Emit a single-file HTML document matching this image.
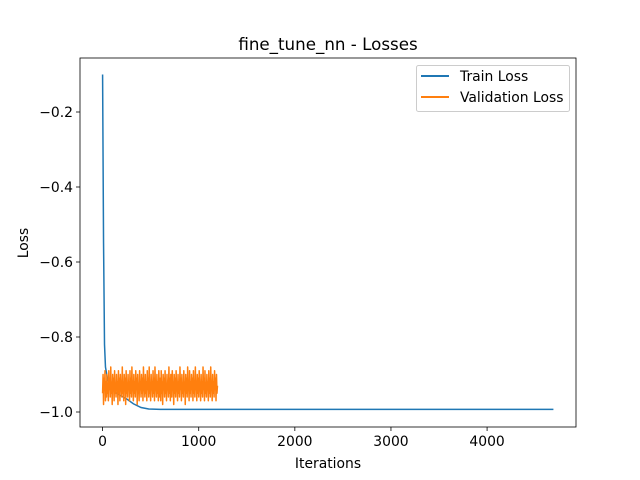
<!DOCTYPE html>
<html><head><meta charset="utf-8"><style>
body{margin:0;background:#fff;}
svg{display:block;font-family:"DejaVu Sans","Liberation Sans",sans-serif;}
</style></head><body>
<svg id="chart" width="640" height="480" viewBox="0 0 640 480">
<rect width="640" height="480" fill="#fff"/>
<text x="328" y="50" font-size="16.7" text-anchor="middle">fine_tune_nn - Losses</text>
<g id="plot"></g>
<text x="328" y="468" font-size="13.9" text-anchor="middle">Iterations</text>
<text x="28" y="243" font-size="13.9" text-anchor="middle" transform="rotate(-90 28 243)">Loss</text>
<g>
<rect x="416.5" y="65.5" width="153" height="46" rx="2" fill="#fff" fill-opacity="0.8" stroke="#ccc"/>
<line x1="421" y1="76" x2="449" y2="76" stroke="#1f77b4" stroke-width="2"/>
<text x="460" y="81" font-size="13.9">Train Loss</text>
<line x1="421" y1="97" x2="449" y2="97" stroke="#ff7f0e" stroke-width="2"/>
<text x="460" y="102" font-size="13.9">Validation Loss</text>
</g>
</svg>
<script>
const xTicks=[0,1000,2000,3000,4000];
const yTicks=[-1.0,-0.8,-0.6,-0.4,-0.2];
const yTickLabels=["\u22121.0","\u22120.8","\u22120.6","\u22120.4","\u22120.2"];
const trainX=[0,10,20,30,50,80,120,180,250,320,400,480,600,1000,2000,3000,4000,4690];
const trainY=[-0.10,-0.55,-0.82,-0.88,-0.91,-0.93,-0.945,-0.955,-0.965,-0.978,-0.988,-0.992,-0.993,-0.993,-0.993,-0.993,-0.993,-0.993];
const valY=[-0.95,-0.90,-0.98,-0.91,-0.94,-0.89,-0.97,-0.92,-0.96,-0.90,-0.95,-0.93,-0.97,-0.89,-0.94,-0.91,-0.96,-0.88,-0.95,-0.92,
-0.98,-0.90,-0.94,-0.91,-0.97,-0.89,-0.95,-0.93,-0.96,-0.90,-0.94,-0.92,-0.98,-0.89,-0.95,-0.91,-0.97,-0.90,-0.94,-0.93,
-0.96,-0.88,-0.95,-0.92,-0.97,-0.90,-0.94,-0.91,-0.98,-0.89,-0.95,-0.93,-0.96,-0.90,-0.94,-0.92,-0.97,-0.89,-0.95,-0.91,
-0.96,-0.88,-0.94,-0.93,-0.97,-0.90,-0.95,-0.92,-0.96,-0.89,-0.94,-0.91,-0.98,-0.90,-0.95,-0.93,-0.97,-0.89,-0.94,-0.92,
-0.96,-0.90,-0.95,-0.91,-0.97,-0.88,-0.94,-0.93,-0.96,-0.90,-0.95,-0.92,-0.97,-0.89,-0.94,-0.91,-0.96,-0.88,-0.95,-0.93,
-0.97,-0.90,-0.94,-0.92,-0.96,-0.89,-0.95,-0.91,-0.97,-0.88,-0.94,-0.93,-0.96,-0.90,-0.95,-0.92,-0.97,-0.89,-0.93,-0.96,
-0.91,-0.97,-0.89,-0.95,-0.92,-0.98,-0.90,-0.94,-0.91,-0.96,-0.89,-0.95,-0.93,-0.97,-0.90,-0.94,-0.92,-0.96,-0.88,-0.95,
-0.91,-0.97,-0.90,-0.93,-0.96,-0.89,-0.94,-0.92,-0.98,-0.90,-0.95,-0.91,-0.96,-0.89,-0.94,-0.93,-0.97,-0.90,-0.95,-0.92,
-0.96,-0.88,-0.94,-0.91,-0.97,-0.90,-0.95,-0.93,-0.96,-0.89,-0.94,-0.92,-0.98,-0.90,-0.95,-0.91,-0.96,-0.88,-0.94,-0.93,
-0.97,-0.89,-0.95,-0.92,-0.96,-0.90,-0.94,-0.91,-0.97,-0.89,-0.95,-0.93,-0.96,-0.88,-0.94,-0.92,-0.97,-0.90,-0.95,-0.91,
-0.96,-0.89,-0.94,-0.93,-0.97,-0.90,-0.95,-0.92,-0.96,-0.88,-0.94,-0.91,-0.97,-0.89,-0.95,-0.93,-0.96,-0.90,-0.94,-0.92,
-0.97,-0.89,-0.95,-0.91,-0.96,-0.88,-0.94,-0.93,-0.97,-0.90,-0.95,-0.92,-0.96,-0.89,-0.94,-0.91,-0.97,-0.90,-0.95,-0.93];
const valStep=5;
const L=80,R=576,T=58,B=427;
const X0=-235,X1=4925,Y0=-1.04,Y1=-0.056;
const sx=v=>L+(v-X0)/(X1-X0)*(R-L);
const sy=v=>B-(v-Y0)/(Y1-Y0)*(B-T);
const NS="http://www.w3.org/2000/svg";
const g=document.getElementById('plot');
function mk(t,a){const e=document.createElementNS(NS,t);for(const k in a)e.setAttribute(k,a[k]);g.appendChild(e);return e;}
xTicks.forEach(v=>{
 const l=mk('line',{x1:sx(v),x2:sx(v),y1:B,y2:B+4,stroke:'#000','stroke-width':0.8});
 
 
 const t=mk('text',{x:sx(v),y:B+19,'font-size':13.9,'text-anchor':'middle'});t.textContent=v;
 
 
});
yTicks.forEach((v,i)=>{
 const l=mk('line',{x1:L-4,x2:L,y1:sy(v),y2:sy(v),stroke:'#000','stroke-width':0.8});
 
 
 const t=mk('text',{x:L-7,y:sy(v)+5,'font-size':13.9,'text-anchor':'end'});t.textContent=yTickLabels[i];
 
 
});
const tp=mk('polyline',{points:trainX.map((x,i)=>sx(x)+','+sy(trainY[i])).join(' '),fill:'none',stroke:'#1f77b4','stroke-width':1.5});


const vp=mk('polyline',{points:valY.map((y,i)=>sx(i*valStep)+','+sy(y)).join(' '),fill:'none',stroke:'#ff7f0e','stroke-width':1.5,'stroke-linejoin':'round'});


const fr=mk('rect',{x:L,y:T,width:R-L,height:B-T,fill:'none',stroke:'#000','stroke-width':0.8});


</script>
</body></html>
